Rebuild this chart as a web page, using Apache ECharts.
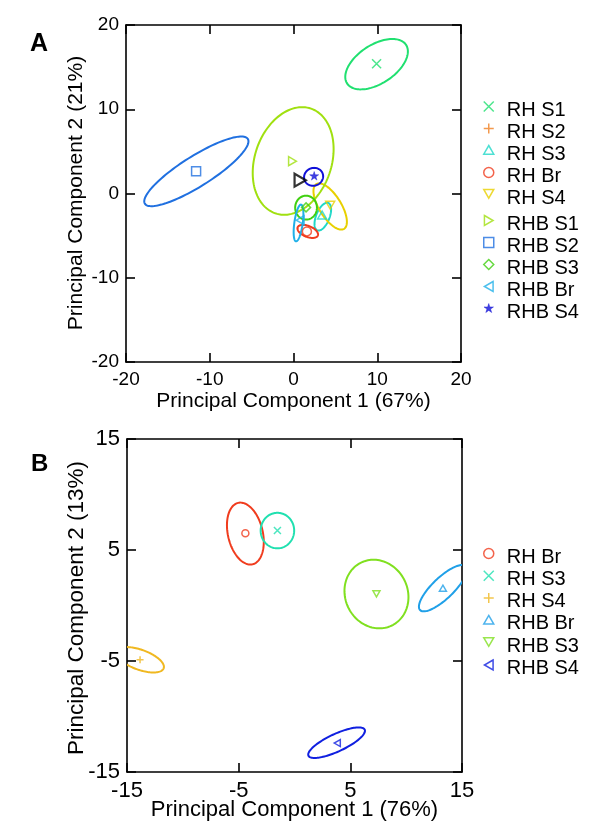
<!DOCTYPE html>
<html><head><meta charset="utf-8">
<script src="https://cdn.jsdelivr.net/npm/echarts@6/dist/echarts.min.js"></script>
<style>html,body{margin:0;padding:0;background:#fff}#c{width:600px;height:831px}</style>
</head><body><div id="c"></div>
<script>
// ---------------- DATA: Panel A ----------------
const namesA   = ['RH S1','RH S2','RH S3','RH Br','RH S4','RHB S1','RHB S2','RHB S3','RHB Br','RHB S4'];
const pointXA  = [9.92, null, 3.42, 1.6, 4.38, -0.12, -11.63, 1.5, 0.8, 2.47];
const pointYA  = [15.4, null, -2.55, -4.5, -1.39, 3.84, 2.65, -1.65, -3.17, 2.1];
const ellCxA   = [9.92, null, 3.5, 1.7, 4.38, -0.04, -11.6, 1.5, 0.6, 2.4];
const ellCyA   = [15.35, null, -2.75, -4.5, -1.54, 3.86, 2.63, -1.68, -3.5, 1.98];
const ellAA    = [4.2, null, 1.75, 1.3, 3.13, 6.57, 7.25, 1.42, 2.2, 1.15];
const ellBA    = [2.3, null, 0.8, 0.65, 1.31, 4.58, 1.8, 1.3, 0.5, 1.05];
const ellAngA  = [33, null, 68, -22, -58, 71, 32, 90, 82, 20];
const refPointA = [0.8, 1.58];
const ticksA   = [-20, -10, 0, 10, 20];
// ---------------- DATA: Panel B ----------------
const namesB   = ['RH Br','RH S3','RH S4','RHB Br','RHB S3','RHB S4'];
const pointXB  = [-4.4, -1.53, -13.83, 13.29, 7.34, 3.83];
const pointYB  = [6.51, 6.75, -4.89, 1.56, 1.05, -12.39];
const ellCxB   = [-4.4, -1.53, -13.83, 13.29, 7.34, 3.77];
const ellCyB   = [6.48, 6.75, -4.89, 1.56, 1.03, -12.36];
const ellAB    = [2.84, 1.6, 2.25, 2.84, 3.15, 2.78];
const ellBB    = [1.56, 1.5, 0.9, 0.95, 2.8, 0.79];
const ellAngB  = [103, 90, -20, 44, -65, 25];
const ticksB   = [-15, -5, 5, 15];
const titlesA = ['Principal Component 1 (67%)', 'Principal Component 2 (21%)'];
const titlesB = ['Principal Component 1 (76%)', 'Principal Component 2 (13%)'];

// ---------------- STYLES ----------------
const SYM = {
  cross: 'M0,0L10,10M10,0L0,10',
  plus: 'M5,0L5,10M0,5L10,5',
  triUp: 'M5,0L10,8.66L0,8.66Z',
  triDown: 'M0,0L10,0L5,8.66Z',
  triRight: 'M0,0L8.66,5L0,10Z',
  triLeft: 'M8.66,0L0,5L8.66,10Z',
  circle: 'M5,0A5,5,0,1,1,5,10A5,5,0,1,1,5,0Z',
  square: 'M0,0L10,0L10,10L0,10Z',
  diamond: 'M5,0L10,5L5,10L0,5Z',
  star: 'M5,0L6.12,3.45L9.76,3.45L6.82,5.59L7.94,9.05L5,6.91L2.06,9.05L3.18,5.59L0.24,3.45L3.88,3.45Z'
};
const symA = ['cross','plus','triUp','circle','triDown','triRight','square','diamond','triLeft','star'];
const colA = ['#20E070','#F08020','#20D8C8','#F03C1E','#E8D000','#A0E010','#2070E0','#40D010','#20B0E8','#1010D8'];
const symB = ['circle','cross','plus','triUp','triDown','triLeft'];
const colB = ['#F03C1E','#20E0B0','#F0B820','#20A0E8','#80E020','#1020E0'];
const FONT = '"Liberation Sans", Arial, sans-serif';

function ellipseRender(params, api) {
  const cx = api.value(0), cy = api.value(1), a = api.value(2), b = api.value(3);
  const ang = api.value(4) * Math.PI / 180;
  const pts = [];
  for (let i = 0; i <= 120; i++) {
    const t = i / 120 * 2 * Math.PI;
    const ex = a * Math.cos(t), ey = b * Math.sin(t);
    pts.push(api.coord([cx + ex * Math.cos(ang) - ey * Math.sin(ang), cy + ex * Math.sin(ang) + ey * Math.cos(ang)]));
  }
  return {type: 'polygon', shape: {points: pts}, style: {fill: 'none', stroke: api.visual('color'), lineWidth: 2}};
}

function makeAxes(ticks, gi, fs, isX) {
  const base = {
    gridIndex: gi, type: 'value', min: ticks[0], max: ticks[ticks.length - 1], interval: ticks[1] - ticks[0],
    axisLine: {show: true, onZero: false, lineStyle: {color: '#000', width: 1.6}},
    axisTick: {show: true, inside: true, length: 9, lineStyle: {color: '#000', width: 1.6}},
    splitLine: {show: false}
  };
  return [
    Object.assign({}, base, {position: isX ? 'bottom' : 'left',
      axisLabel: {show: true, fontSize: fs, color: '#000', fontFamily: FONT, margin: isX ? 8 : 7}}),
    Object.assign({}, base, {position: isX ? 'top' : 'right', axisLabel: {show: false}})
  ];
}

const series = [];
function addPanel(names, px, py, cx, cy, ea, eb, eang, syms, cols, gi, xi, yi, msize) {
  names.forEach((n, i) => {
    if (cx[i] != null) {
      series.push({type: 'custom', name: n + ' ellipse', xAxisIndex: xi, yAxisIndex: yi, clip: true,
        renderItem: ellipseRender, encode: {x: 0, y: 1}, silent: true,
        itemStyle: {color: cols[i]}, data: [[cx[i], cy[i], ea[i], eb[i], eang[i]]]});
    }
  });
  names.forEach((n, i) => {
    const filled = syms[i] === 'star';
    series.push({type: 'scatter', name: n, xAxisIndex: xi, yAxisIndex: yi,
      symbol: 'path://' + SYM[syms[i]], symbolKeepAspect: true, symbolSize: msize,
      itemStyle: {color: filled ? cols[i] : 'rgba(0,0,0,0)', borderColor: cols[i], borderWidth: filled ? 0.5 : 1.5},
      data: px[i] == null ? [] : [[px[i], py[i]]]});
  });
}
addPanel(namesA, pointXA, pointYA, ellCxA, ellCyA, ellAA, ellBA, ellAngA, symA, colA, 0, 0, 0, 9);
series.push({type: 'scatter', name: 'ref', xAxisIndex: 0, yAxisIndex: 0, symbol: 'path://' + SYM.triRight,
  symbolKeepAspect: true, symbolSize: 13, itemStyle: {color: 'rgba(0,0,0,0)', borderColor: '#000', borderWidth: 2.2},
  data: [refPointA]});
addPanel(namesB, pointXB, pointYB, ellCxB, ellCyB, ellAB, ellBB, ellAngB, symB, colB, 1, 2, 2, 7);

function legendItems(names, syms, cols) {
  return names.map((n, i) => ({
    name: n, icon: 'path://' + SYM[syms[i]] + 'M5,17',
    itemStyle: syms[i] === 'star' ? {color: cols[i], borderColor: cols[i], borderWidth: 0.5}
      : {color: 'rgba(0,0,0,0)', borderColor: cols[i], borderWidth: 1.5}
  }));
}
const legendBase = {orient: 'vertical', left: 483, padding: 0, itemWidth: 26, itemHeight: 17, selectedMode: false,
  textStyle: {fontSize: 20, color: '#000', fontFamily: FONT}};

const option = {
  animation: false,
  backgroundColor: '#fff',
  grid: [
    {left: 126, top: 25, width: 335, height: 337, containLabel: false, outerBoundsMode: 'none'},
    {left: 127, top: 439, width: 335, height: 333, containLabel: false, outerBoundsMode: 'none'}
  ],
  xAxis: [...makeAxes(ticksA, 0, 19, true), ...makeAxes(ticksB, 1, 22, true)],
  yAxis: [...makeAxes(ticksA, 0, 19, false), ...makeAxes(ticksB, 1, 22, false)],
  legend: [
    Object.assign({}, legendBase, {top: 100, itemGap: 2, data: legendItems(namesA.slice(0, 5), symA.slice(0, 5), colA.slice(0, 5))}),
    Object.assign({}, legendBase, {top: 214, itemGap: 2, data: legendItems(namesA.slice(5), symA.slice(5), colA.slice(5))}),
    Object.assign({}, legendBase, {top: 547, itemGap: 2.3, data: legendItems(namesB, symB, colB)})
  ],
  graphic: [
    {type: 'text', x: 30, y: 44, style: {text: 'A', font: 'bold 25px ' + FONT, fill: '#000', verticalAlign: 'middle'}},
    {type: 'text', x: 31, y: 464, style: {text: 'B', font: 'bold 24px ' + FONT, fill: '#000', verticalAlign: 'middle'}},
    {type: 'text', x: 293.5, y: 401, style: {text: titlesA[0], font: '21px ' + FONT, fill: '#000', align: 'center', verticalAlign: 'middle'}},
    {type: 'text', x: 76, y: 193, rotation: Math.PI / 2, style: {text: titlesA[1], font: '21px ' + FONT, fill: '#000', align: 'center', verticalAlign: 'middle'}},
    {type: 'text', x: 294.5, y: 810, style: {text: titlesB[0], font: '22px ' + FONT, fill: '#000', align: 'center', verticalAlign: 'middle'}},
    {type: 'text', x: 77, y: 608, rotation: Math.PI / 2, style: {text: titlesB[1], font: '22.5px ' + FONT, fill: '#000', align: 'center', verticalAlign: 'middle'}}
  ],
  series: series
};
const chart = echarts.init(document.getElementById('c'), null, {renderer: 'canvas'});
chart.setOption(option);
</script>
</body></html>
